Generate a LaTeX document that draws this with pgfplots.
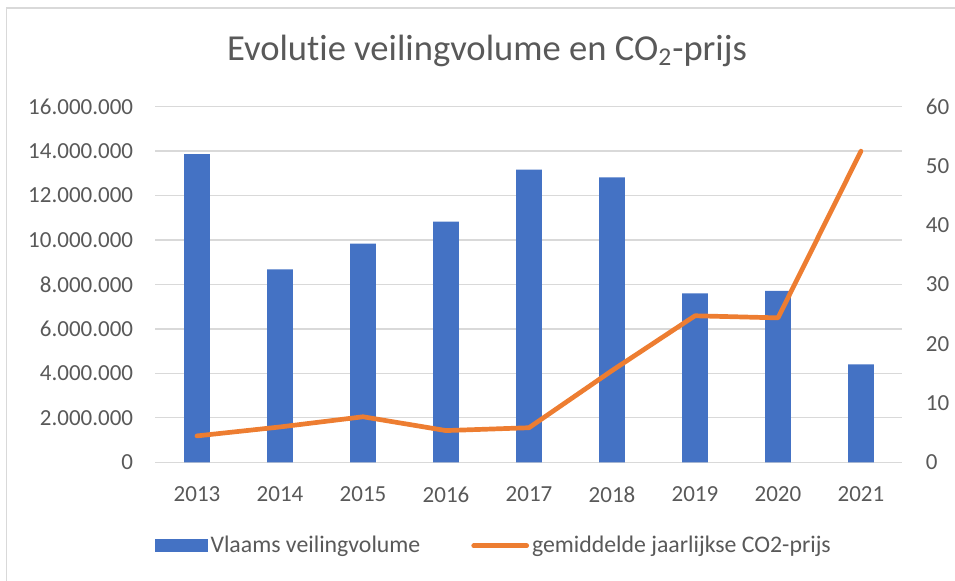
\documentclass[border=0pt]{standalone}
\usepackage{pgfplots}
\pgfplotsset{compat=1.18}
\usepackage{fontspec}
\setmainfont[Ligatures=NoCommon]{Carlito}
\definecolor{barblue}{HTML}{4472C4}
\definecolor{lineorange}{HTML}{ED7D31}
\definecolor{gridgray}{HTML}{D9D9D9}
\definecolor{textgray}{HTML}{595959}
\begin{document}
\begin{tikzpicture}
\useasboundingbox (0pt,0pt) rectangle (477.5pt,290.5pt);
\draw[gridgray, line width=0.8pt] (3.25pt,-10pt) -- (3.25pt,286.5pt) -- (490pt,286.5pt);
\node[text=textgray, font=\fontsize{18.3}{22}\selectfont] at (243.5pt,265pt) {Evolutie veilingvolume en CO\textsubscript{2}-prijs};
\begin{axis}[
  at={(77.75pt,59.35pt)}, anchor=south west,
  scale only axis, width=373.5pt, height=177.8pt,
  xmin=-0.5, xmax=8.5, ymin=0, ymax=16000000,
  xtick={0,1,2,3,4,5,6,7,8},
  xticklabels={2013,2014,2015,2016,2017,2018,2019,2020,2021},
  ytick={0,2000000,4000000,6000000,8000000,10000000,12000000,14000000,16000000},
  scaled y ticks=false,
  yticklabel={\pgfmathprintnumber[fixed,precision=0,1000 sep={.},assume math mode=true]{\tick}},
  major tick length=0pt,
  axis line style={draw=none},
  ymajorgrids, grid style={gridgray, line width=0.65pt},
  tick label style={text=textgray, font=\fontsize{11.5}{14}\selectfont},
  yticklabel style={inner sep=0pt, anchor=east, xshift=-11pt},
  xticklabel style={inner sep=0pt, anchor=north, yshift=-12pt},
  clip=false,
]
\addplot[ybar, bar width=12.85pt, fill=barblue, draw=none] coordinates {
(0,13860000) (1,8680000) (2,9840000) (3,10830000) (4,13170000)
(5,12820000) (6,7600000) (7,7710000) (8,4410000)};
\end{axis}
\begin{axis}[
  at={(77.75pt,59.35pt)}, anchor=south west,
  scale only axis, width=373.5pt, height=177.8pt,
  xmin=-0.5, xmax=8.5, ymin=0, ymax=60,
  ytick={0,10,20,30,40,50,60},
  axis y line*=right,
  axis x line=none,
  major tick length=0pt,
  axis line style={draw=none},
  tick label style={text=textgray, font=\fontsize{11.5}{14}\selectfont},
  yticklabel style={inner sep=0pt, anchor=west, xshift=11.5pt},
  /pgf/number format/assume math mode=true,
  clip=false,
  legend columns=2,
  legend style={at={(0.4535,-0.235)}, anchor=center, draw=none, fill=none,
    font=\fontsize{11.9}{14}\selectfont, text=textgray,
    /tikz/every even column/.append style={column sep=24pt},
    nodes={inner sep=1.5pt}},
]
\addlegendimage{legend image code/.code={\fill[barblue] (0pt,-3pt) rectangle (26pt,3pt);}}
\addlegendentry{Vlaams veilingvolume}
\addplot[lineorange, line width=2.35pt, line join=round, line cap=round, mark=none,
  legend image code/.code={\draw[lineorange, line width=2.35pt, line cap=round] (0.5pt,0pt) -- (27pt,0pt);}]
 coordinates {
(0,4.45) (1,5.96) (2,7.68) (3,5.35) (4,5.83) (5,15.47) (6,24.72) (7,24.37) (8,52.5)};
\addlegendentry{gemiddelde jaarlijkse CO2-prijs}
\end{axis}
\end{tikzpicture}
\end{document}
